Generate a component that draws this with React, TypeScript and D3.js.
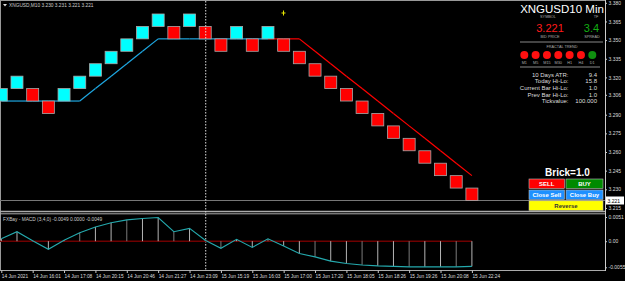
import { useEffect, useRef } from "react";
import * as d3 from "d3";

// renko bricks: low of each brick, and its direction
const BRICK_LOW = [
  3.301, 3.311, 3.301, 3.291, 3.301, 3.311, 3.321, 3.331, 3.341, 3.351, 3.361,
  3.351, 3.361, 3.351, 3.341, 3.351, 3.341, 3.351, 3.341, 3.331, 3.321, 3.311,
  3.301, 3.291, 3.281, 3.271, 3.261, 3.251, 3.241, 3.231, 3.221,
];
const BRICK_DIR = [
  "up", "up", "down", "down", "up", "up", "up", "up", "up", "up", "up",
  "down", "up", "down", "down", "up", "down", "up", "down", "down", "down", "down",
  "down", "down", "down", "down", "down", "down", "down", "down", "down",
];
const BRICK_SIZE = 0.01;

// trailing trend line under/over the bricks
const TREND_LINE = [
  3.301, 3.301, 3.301, 3.301, 3.301, 3.301, 3.311, 3.321, 3.331, 3.341, 3.351,
  3.351, 3.351, 3.351, 3.351, 3.351, 3.351, 3.351, 3.351, 3.351, 3.341, 3.331,
  3.321, 3.311, 3.301, 3.291, 3.281, 3.271, 3.261, 3.251, 3.241,
];
const TREND_DIR = [
  "up", "up", "up", "up", "up", "up", "up", "up", "up", "up", "up",
  "up", "up", "up", "up", "up", "up", "up", "down", "down", "down", "down",
  "down", "down", "down", "down", "down", "down", "down", "down", "down",
];

// MACD (3,4,0) per brick
const MACD = [
  0.0005, 0.0020, 0.0001, -0.0017, 0.0002, 0.0018, 0.0030, 0.0039, 0.0045, 0.0048, 0.0050,
  0.0020, 0.0027, 0.0002, -0.0015, 0.0004, -0.0013, 0.0005, -0.0010, -0.0026, -0.0033, -0.0042,
  -0.0047, -0.0050, -0.0052, -0.0053, -0.0054, -0.0054, -0.0054, -0.0054, -0.0053,
];

const Y_TICKS = [3.380, 3.365, 3.350, 3.335, 3.320, 3.306, 3.290, 3.275, 3.260, 3.245, 3.230, 3.215];
const MACD_TICKS = [0.0051, 0, -0.0055];
const MACD_TICK_LABELS = ["0.0051", "0.00", "-0.0055"];

const X_LABEL_AT = [0, 2, 4, 6, 8, 10, 12, 14, 16, 18, 20, 22, 24, 26, 28, 30];
const X_LABELS = [
  "14 Jun 2021", "14 Jun 16:01", "14 Jun 17:08", "14 Jun 20:15", "14 Jun 20:46", "14 Jun 21:27",
  "14 Jun 23:09", "15 Jun 15:19", "15 Jun 16:03", "15 Jun 17:00", "15 Jun 17:20", "15 Jun 18:05",
  "15 Jun 18:26", "15 Jun 19:26", "15 Jun 20:08", "15 Jun 22:24",
];

const TF_NAMES = ["M1", "M5", "M15", "M30", "H1", "H4", "D1"];
const TF_TREND = ["down", "down", "down", "down", "down", "down", "up"];

const STATS = [
  ["10 Days ATR:", "9.4"],
  ["Today Hi-Lo:", "15.8"],
  ["Current Bar Hi-Lo:", "1.0"],
  ["Prev Bar Hi-Lo:", "1.0"],
  ["Tickvalue:", "100.000"],
];

const BID = 3.221;
const FONT = "'Liberation Sans', Arial, sans-serif";

export default function App() {
  const svgRef = useRef<SVGSVGElement>(null);

  useEffect(() => {
    if (!svgRef.current) return;
    document.body.style.margin = "0";
    document.body.style.background = "#000";

    const W = 625, H = 281;
    const axisX = 605;
    const svg = d3.select(svgRef.current);
    svg.selectAll("*").remove();
    svg.attr("width", W).attr("height", H).style("font-family", FONT);

    svg.append("rect").attr("width", W).attr("height", H).attr("fill", "#000");

    const x = d3.scaleLinear().domain([0, BRICK_LOW.length - 1]).range([1.3, 471.9]);
    const y = d3.scaleLinear().domain([3.221, 3.380]).range([200.5, 2.8]);
    const m = d3.scaleLinear().domain([-0.0055, 0.0051]).range([267.3, 217]);
    const idx = d3.range(BRICK_LOW.length);

    // frame
    svg.append("line").attr("x1", 0).attr("x2", axisX).attr("y1", 0.5).attr("y2", 0.5).attr("stroke", "#999");
    svg.append("line").attr("x1", 0.5).attr("x2", 0.5).attr("y1", 0).attr("y2", 271).attr("stroke", "#999");
    svg.append("line").attr("x1", axisX + 0.5).attr("x2", axisX + 0.5).attr("y1", 0).attr("y2", 271).attr("stroke", "#ccc");
    svg.append("line").attr("x1", 0).attr("x2", axisX).attr("y1", 211.5).attr("y2", 211.5).attr("stroke", "#aaa").attr("stroke-width", 1.5);
    svg.append("line").attr("x1", 0).attr("x2", axisX).attr("y1", 213.8).attr("y2", 213.8).attr("stroke", "#aaa");
    svg.append("line").attr("x1", 0).attr("x2", axisX).attr("y1", 270.5).attr("y2", 270.5).attr("stroke", "#aaa");

    // bid line
    svg.append("line").attr("x1", 0).attr("x2", axisX).attr("y1", y(BID)).attr("y2", y(BID)).attr("stroke", "#777");

    // trend line
    const main = svg.append("g");
    idx.slice(1).forEach((i) => {
      main.append("line")
        .attr("x1", x(i - 1)).attr("y1", y(TREND_LINE[i - 1]))
        .attr("x2", x(i)).attr("y2", y(TREND_LINE[i]))
        .attr("stroke", TREND_DIR[i] === "up" ? "#1ea7e1" : "#ff0000")
        .attr("stroke-width", 1.2);
    });

    // bricks
    const bw = 12;
    main.selectAll("rect.brick").data(idx).join("rect")
      .attr("class", "brick")
      .attr("x", (i) => x(i) - bw / 2)
      .attr("y", (i) => y(BRICK_LOW[i] + BRICK_SIZE))
      .attr("width", bw)
      .attr("height", (i) => y(BRICK_LOW[i]) - y(BRICK_LOW[i] + BRICK_SIZE))
      .attr("fill", (i) => (BRICK_DIR[i] === "up" ? "#00ffff" : "#ff0000"))
      .attr("stroke", "#a8a8a8")
      .attr("stroke-width", 0.8);

    // separator (dotted)
    svg.append("line").attr("x1", x(13) + 0.5).attr("x2", x(13) + 0.5).attr("y1", 1).attr("y2", 270)
      .attr("stroke", "#ddd").attr("stroke-dasharray", "1.5,1.5");

    // yellow marker
    const mk = svg.append("g").attr("transform", "translate(283.5,13)").attr("stroke", "#e8e800").attr("stroke-width", 1);
    mk.append("line").attr("x1", 0).attr("x2", 0).attr("y1", -2.5).attr("y2", 2.5);
    mk.append("line").attr("x1", -2).attr("x2", 2).attr("y1", 0).attr("y2", 0);

    // header
    svg.append("path").attr("d", "M3,4 L7,4 L5,6.5 Z").attr("fill", "#ddd");
    svg.append("text").attr("x", 9).attr("y", 7).attr("font-size", 4.8).attr("fill", "#ccc")
      .text("XNGUSD,M10  3.230 3.231 3.221 3.221");

    // price axis
    svg.append("g").attr("transform", `translate(${axisX},0)`)
      .call(d3.axisRight(y).tickValues(Y_TICKS).tickSize(2).tickPadding(1.5).tickFormat((d) => d3.format(".3f")(d as number)))
      .call((ax) => ax.select(".domain").remove())
      .call((ax) => ax.selectAll("line").attr("stroke", "#ccc"))
      .call((ax) => ax.selectAll("text").attr("font-size", 5).attr("fill", "#ddd").attr("font-family", FONT));

    // bid label
    svg.append("rect").attr("x", axisX + 1).attr("y", y(BID) - 4).attr("width", 18).attr("height", 8).attr("fill", "#fff");
    svg.append("text").attr("x", axisX + 2.5).attr("y", y(BID) + 2).attr("font-size", 5).attr("fill", "#000").text(BID.toFixed(3));

    // MACD panel
    svg.append("line").attr("x1", 0).attr("x2", x(30)).attr("y1", m(0)).attr("y2", m(0))
      .attr("stroke", "#6e0000").attr("stroke-width", 1.6);
    svg.selectAll("line.hist").data(idx).join("line")
      .attr("class", "hist")
      .attr("x1", (i) => x(i)).attr("x2", (i) => x(i))
      .attr("y1", m(0)).attr("y2", (i) => m(MACD[i]))
      .attr("stroke", (i) => (i % 3 === 2 ? "#888" : "#c8c8c8"))
      .attr("stroke-width", 0.9);
    const macdLine = d3.line<number>().x((i) => x(i)).y((i) => m(MACD[i]));
    svg.append("path").datum(idx).attr("d", macdLine).attr("fill", "none")
      .attr("stroke", "#24a9ad").attr("stroke-width", 1.1);
    svg.append("text").attr("x", 3).attr("y", 221).attr("font-size", 4.8).attr("fill", "#ccc")
      .text("FXBay - MACD (3,4,0) -0.0049 0.0000 -0.0049");

    svg.append("g").attr("transform", `translate(${axisX},0)`)
      .call(d3.axisRight(m).tickValues(MACD_TICKS).tickSize(2).tickPadding(1.5).tickFormat((_, i) => MACD_TICK_LABELS[i]))
      .call((ax) => ax.select(".domain").remove())
      .call((ax) => ax.selectAll("line").attr("stroke", "#ccc"))
      .call((ax) => ax.selectAll("text").attr("font-size", 5).attr("fill", "#ddd").attr("font-family", FONT));

    // time axis
    svg.append("g").attr("transform", "translate(0,270.5)")
      .call(d3.axisBottom(x).tickValues(X_LABEL_AT).tickSize(2.5).tickPadding(1.5).tickFormat((_, i) => X_LABELS[i]))
      .call((ax) => ax.select(".domain").remove())
      .call((ax) => ax.selectAll("line").attr("stroke", "#ccc"))
      .call((ax) => ax.selectAll("text").attr("font-size", 4.8).attr("fill", "#ddd")
        .attr("text-anchor", "start").attr("font-family", FONT));

    // info panel
    const p = svg.append("g");
    p.append("text").attr("x", 562).attr("y", 13).attr("text-anchor", "middle").attr("font-size", 11.5).attr("fill", "#fff")
      .text("XNGUSD10 Min");
    const small = (tx: number, ty: number, s: string) =>
      p.append("text").attr("x", tx).attr("y", ty).attr("text-anchor", "middle").attr("font-size", 3.8).attr("fill", "#aaa").text(s);
    small(548, 17.5, "SYMBOL");
    small(596, 17.5, "TF");
    p.append("text").attr("x", 550).attr("y", 32).attr("text-anchor", "middle").attr("font-size", 11).attr("fill", "#ff1a1a").text(BID.toFixed(3));
    p.append("text").attr("x", 591.5).attr("y", 32).attr("text-anchor", "middle").attr("font-size", 11).attr("fill", "#12b012").text("3.4");
    small(550, 37.5, "BID PRICE");
    small(592, 37.5, "SPREAD");
    p.append("line").attr("x1", 520).attr("x2", 603).attr("y1", 42).attr("y2", 42).attr("stroke", "#888");
    small(562, 47.5, "FRACTAL TREND");
    const cx = d3.scalePoint().domain(TF_NAMES).range([524.3, 592.3]);
    TF_NAMES.forEach((tf, i) => {
      p.append("circle").attr("cx", cx(tf)!).attr("cy", 55).attr("r", 4)
        .attr("fill", TF_TREND[i] === "up" ? "#109010" : "#ff1010");
      small(cx(tf)!, 64, tf);
    });
    p.append("line").attr("x1", 520).attr("x2", 600).attr("y1", 67).attr("y2", 67).attr("stroke", "#888");
    STATS.forEach(([k, v], i) => {
      const ty = 76.5 + i * 6.7;
      p.append("text").attr("x", 568.5).attr("y", ty).attr("text-anchor", "end").attr("font-size", 6).attr("fill", "#ddd").text(k);
      p.append("text").attr("x", 597).attr("y", ty).attr("text-anchor", "end").attr("font-size", 6).attr("fill", "#ddd").text(v);
    });

    p.append("text").attr("x", 567.5).attr("y", 175.5).attr("text-anchor", "middle").attr("font-size", 10)
      .attr("font-weight", 700).attr("fill", "#fff").text("Brick=1.0");

    const buttons = [
      { x0: 529, y0: 179, w: 35.5, h: 9.5, fill: "#ff0000", color: "#fff", label: "SELL" },
      { x0: 566, y0: 179, w: 37, h: 9.5, fill: "#008a00", color: "#fff", label: "BUY" },
      { x0: 529, y0: 190, w: 35.5, h: 9.5, fill: "#1e90ff", color: "#fff", label: "Close Sell" },
      { x0: 566, y0: 190, w: 37, h: 9.5, fill: "#1e90ff", color: "#fff", label: "Close Buy" },
      { x0: 529, y0: 200.8, w: 74, h: 9.5, fill: "#ffff00", color: "#333", label: "Reverse" },
    ];
    buttons.forEach((b) => {
      p.append("rect").attr("x", b.x0).attr("y", b.y0).attr("width", b.w).attr("height", b.h)
        .attr("fill", b.fill).attr("stroke", "#bbb").attr("stroke-width", 0.6);
      p.append("text").attr("x", b.x0 + b.w / 2).attr("y", b.y0 + b.h / 2 + 2).attr("text-anchor", "middle")
        .attr("font-size", 6).attr("font-weight", 700).attr("fill", b.color).text(b.label);
    });
  }, []);

  return <svg ref={svgRef} style={{ position: "absolute", left: 0, top: 0, display: "block" }} />;
}
